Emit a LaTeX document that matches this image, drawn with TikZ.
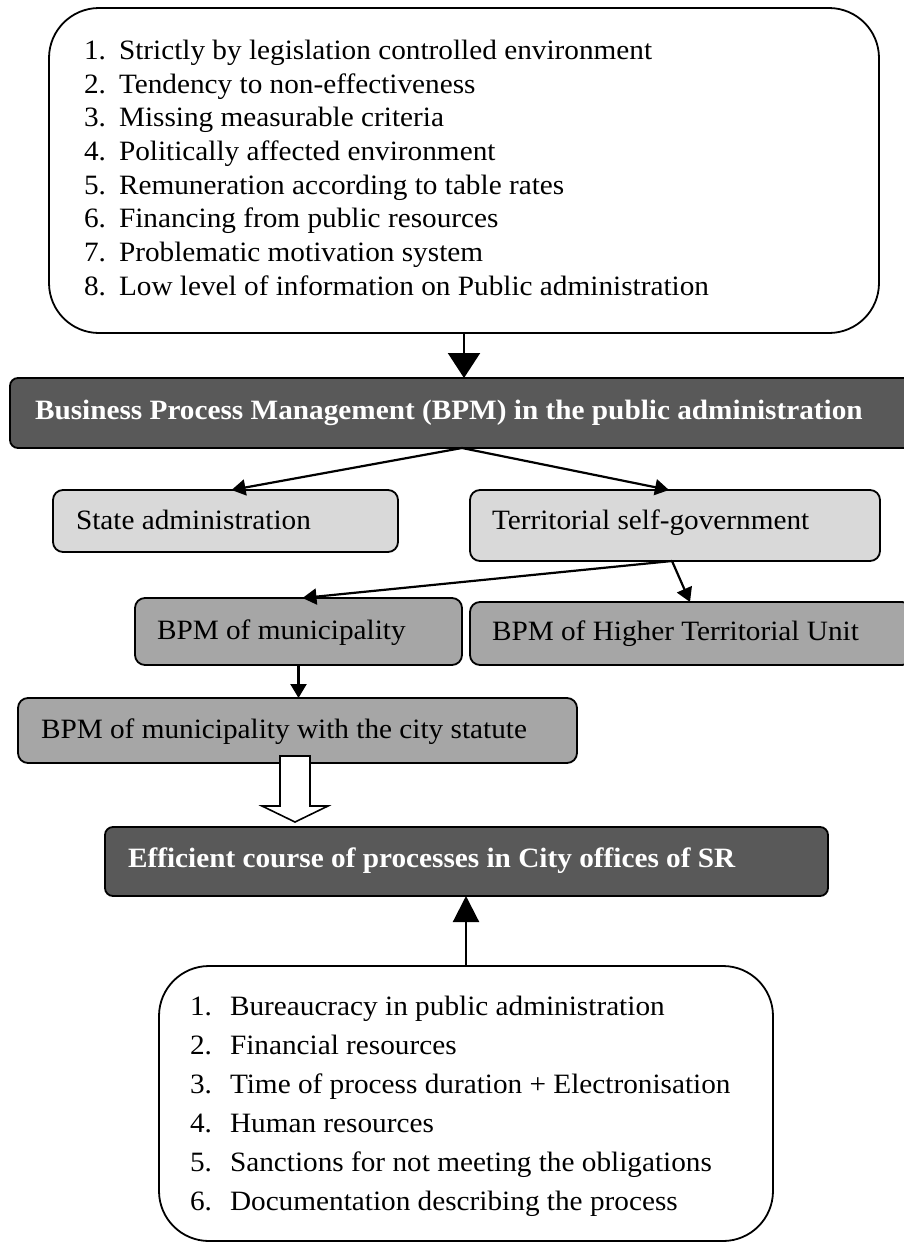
\documentclass[tikz,border=0pt]{standalone}
\usepackage{fontspec}
\setmainfont{Liberation Serif}[FakeStretch=1.045]
\usetikzlibrary{arrows.meta,calc}
\definecolor{cdark}{HTML}{595959}
\definecolor{clight}{HTML}{D9D9D9}
\definecolor{cmid}{HTML}{A6A6A6}
\begin{document}
\begin{tikzpicture}[x=0.5pt,y=-0.5pt,
  every node/.style={inner sep=0pt, outer sep=0pt},
  txt/.style={anchor=base west, font=\fontsize{14pt}{16pt}\selectfont},
  wtxt/.style={anchor=base west, text=white, font=\fontsize{14pt}{16pt}\selectfont\bfseries},
  listbox/.style={draw=black, line width=0.9pt, rounded corners=25pt, fill=white},
  darkbox/.style={draw=black, line width=0.9pt, rounded corners=4pt, fill=cdark},
  lightbox/.style={draw=black, line width=0.9pt, rounded corners=5pt, fill=clight},
  midbox/.style={draw=black, line width=0.9pt, rounded corners=5pt, fill=cmid},
  conn/.style={draw=black, line width=1.1pt},
  bigtip/.style={-{Triangle[length=12.5pt,width=16pt]}},
  uptip/.style={-{Triangle[length=13pt,width=13pt]}},
  smalltip/.style={-{Triangle[length=7pt,width=8pt]}}
]
\useasboundingbox (0,0) rectangle (904,1243);

% boxes
\node[listbox, minimum width=415pt, minimum height=162.5pt] (top) at (464,170.5) {};
\node[darkbox, minimum width=452pt, minimum height=35pt] (bpm) at (462,413) {};
\node[lightbox, minimum width=172.5pt, minimum height=31pt] (state) at (225.5,521) {};
\node[lightbox, minimum width=205pt, minimum height=35.5pt] (terr) at (675,525.5) {};
\node[midbox, minimum width=163.5pt, minimum height=33.5pt] (muni) at (298.5,631.5) {};
\node[midbox, minimum width=221pt, minimum height=31.5pt] (higher) at (691,633.5) {};
\node[midbox, minimum width=279.5pt, minimum height=32.5pt] (city) at (297.5,730.5) {};
\node[darkbox, minimum width=361.5pt, minimum height=34.5pt] (eff) at (466.5,861.5) {};
\node[listbox, minimum width=307pt, minimum height=137.5pt] (bottom) at (466,1103.5) {};

% texts
\foreach \t [count=\i from 0] in {Strictly by legislation controlled environment,
  Tendency to non-effectiveness, Missing measurable criteria,
  Politically affected environment, Remuneration according to table rates,
  Financing from public resources, Problematic motivation system,
  Low level of information on Public administration}{
  \pgfmathtruncatemacro{\n}{\i+1}
  \node[txt] (tn\n) at (84,59.3+33.7*\i) {\n.};
  \node[txt] (tt\n) at (119,59.3+33.7*\i) {\t};
}
\node[wtxt] (bpmt) at (35,419) {Business Process Management (BPM) in the public administration};
\node[txt] (statet) at (76,529) {State administration};
\node[txt] (terrt) at (492,529) {Territorial self-government};
\node[txt] (munit) at (157,639) {BPM of municipality};
\node[txt] (highert) at (492,640) {BPM of Higher Territorial Unit};
\node[txt] (cityt) at (41,738) {BPM of municipality with the city statute};
\node[wtxt] (efft) at (128,867) {Efficient course of processes in City offices of SR};
\foreach \t [count=\i from 0] in {Bureaucracy in public administration,
  Financial resources, Time of process duration + Electronisation,
  Human resources, Sanctions for not meeting the obligations,
  Documentation describing the process}{
  \pgfmathtruncatemacro{\n}{\i+1}
  \node[txt] (bn\n) at (190,1015+39*\i) {\n.};
  \node[txt] (bt\n) at (230,1015+39*\i) {\t};
}

% connectors
\draw[conn, bigtip] (top.south) -- (top.south |- bpm.north);
\draw[conn, smalltip] (bpm.south) -- ([xshift=3pt]state.north);
\draw[conn, smalltip] (bpm.south) -- ([xshift=-3pt]terr.north);
\draw[conn, smalltip] ([xshift=-1.5pt]terr.south) -- ([xshift=2pt]muni.north);
\draw[conn, smalltip] ([xshift=-1.5pt]terr.south) -- ([xshift=-0.5pt]higher.north);
\draw[conn, smalltip] (muni.south) -- (muni.south |- city.north);
\draw[conn, uptip] (bottom.north) -- (bottom.north |- eff.south);

% hollow block arrow from city to eff
\coordinate (ba) at ($(city.south)+(-2.5,0)$);
\draw[line width=0.8pt, fill=white] ($(ba)+(-15,-7)$) -- ++(30,0) -- ++(0,50) -- ++(18,0)
  -- ++(-33,16) -- ++(-33,-16) -- ++(18,0) -- cycle;
\end{tikzpicture}
\end{document}
